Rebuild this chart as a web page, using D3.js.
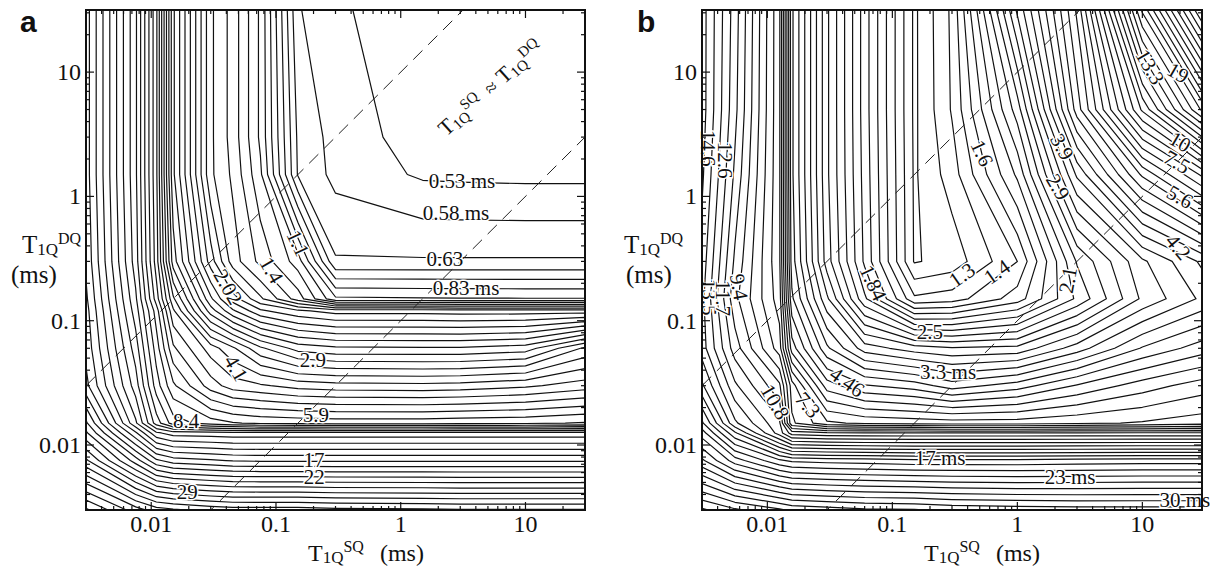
<!DOCTYPE html>
<html><head><meta charset="utf-8">
<script src="https://cdn.jsdelivr.net/npm/d3@7"></script>
<style>
body{margin:0;background:#fff;}
svg{display:block;}
text{font-family:"Liberation Serif","Times New Roman",serif;fill:#111;}
</style></head>
<body>
<svg id="chart" width="1210" height="576"></svg>
<script>
// ================= DATA =================
const xDomain = [0.003, 30];
const yDomain = [0.003, 31.6];
const tickValues = [0.01, 0.1, 1, 10];
const tickLabels = ["0.01", "0.1", "1", "10"];
const diagonalRatios = [10, 0.1];   // T1Q^DQ = 10·T1Q^SQ and T1Q^DQ = 0.1·T1Q^SQ

// ---- panel a : grid of T (ms) on log-spaced nodes ----
const aXNodes = [0.003, 0.0075, 0.011, 0.015, 0.03, 0.045, 0.075, 0.15, 0.3, 1.5, 3, 10, 30];
const aYNodes = [0.003, 0.0075, 0.0125, 0.015, 0.03, 0.06, 0.12, 0.15, 0.3, 1.5, 3, 31.6];
const aGrid = [
  [60.10, 47.27, 43.25, 42.11, 40.28, 39.57, 39.57, 39.57, 38.87, 38.53, 38.19, 38.19, 38.19],
  [35.25, 23.21, 18.92, 17.77, 17.23, 16.90, 16.78, 16.78, 16.78, 16.78, 16.78, 16.78, 16.78],
  [27.00, 15.83, 12.13, 11.40, 11.29, 11.19, 11.19, 11.19, 11.19, 11.19, 11.19, 11.19, 11.19],
  [24.70, 13.25, 9.538, 7.984, 7.305, 7.049, 6.863, 6.803, 6.743, 6.743, 6.803, 6.863, 7.049],
  [19.08, 11.40, 7.984, 6.507, 5.118, 4.683, 4.539, 4.322, 4.246, 4.209, 4.246, 4.400, 4.683],
  [18.09, 10.43, 7.305, 5.447, 4.284, 3.817, 3.195, 2.771, 2.674, 2.662, 2.662, 2.747, 3.492],
  [17.62, 9.538, 6.683, 4.559, 2.747, 2.238, 1.874, 1.714, 1.625, 1.625, 1.611, 1.611, 1.611],
  [17.31, 9.287, 6.114, 4.171, 2.447, 1.924, 1.568, 1.234, 0.9199, 0.9118, 0.9102, 0.9085, 0.9085],
  [16.70, 8.726, 5.594, 3.281, 1.924, 1.474, 1.256, 1.033, 0.6389, 0.6389, 0.6389, 0.6389, 0.6389],
  [16.26, 8.497, 5.447, 2.923, 1.568, 1.385, 1.099, 0.6276, 0.5640, 0.5230, 0.5207, 0.5184, 0.5184],
  [16.26, 8.497, 5.447, 2.923, 1.568, 1.360, 1.061, 0.6220, 0.5590, 0.5069, 0.5025, 0.5025, 0.5025],
  [16.26, 8.497, 5.447, 2.923, 1.568, 1.360, 1.061, 0.5845, 0.5347, 0.5115, 0.5025, 0.4936, 0.4892]
];
const aLevels = [0.53, 0.5793, 0.6332, 0.6921, 0.7564, 0.8268, 0.9037, 0.9877, 1.0796, 1.18,
  1.2897, 1.4096, 1.5407, 1.684, 1.8406, 2.0118, 2.1989, 2.4034, 2.627, 2.8713,
  3.1383, 3.4302, 3.7492, 4.0978, 4.4789, 4.8955, 5.3508, 5.8484, 6.3923, 6.9868,
  7.6366, 8.3468, 9.123, 9.9714, 10.899, 11.912, 13.02, 14.231, 15.555, 17.001,
  18.582, 20.31, 22.199, 24.264, 26.52, 28.987, 31.682, 34.629, 37.849, 41.369,
  45.217, 49.422, 54.018, 59.042];
// [text, T1Q^SQ, T1Q^DQ, rotation]
const aLabels = [
  ["0.53 ms", 3.10, 1.33, 0], ["0.58 ms", 2.77, 0.735, 0], ["0.63", 2.26, 0.314, 0],
  ["0.83 ms", 3.34, 0.183, 0], ["1.1", 0.150, 0.42, 65], ["1.4", 0.092, 0.255, 60],
  ["2.02", 0.0412, 0.187, 60], ["2.9", 0.198, 0.0483, 0], ["4.1", 0.0478, 0.0416, 60],
  ["5.9", 0.209, 0.0174, 0], ["8.4", 0.019, 0.0156, 0], ["17", 0.202, 0.00757, 0],
  ["22", 0.203, 0.00553, 0], ["29", 0.0194, 0.00419, 0]
];

// ---- panel b ----
const bXNodes = [0.003, 0.0055, 0.0125, 0.0157, 0.03, 0.06, 0.15, 0.3, 1, 3, 10, 30];
const bYNodes = [0.003, 0.0075, 0.0125, 0.015, 0.03, 0.06, 0.15, 0.3, 1.5, 5, 31.6];
const bGrid = [
  [42.55, 39.50, 36.67, 35.59, 34.81, 34.04, 33.79, 33.04, 32.55, 32.31, 32.31, 32.31],
  [27.23, 22.27, 18.77, 18.22, 17.95, 17.82, 17.55, 17.55, 17.55, 17.69, 17.82, 17.82],
  [22.27, 16.17, 11.40, 9.826, 9.609, 9.538, 9.538, 9.538, 9.538, 9.538, 9.538, 9.538],
  [20.22, 13.94, 11.15, 7.687, 6.624, 6.430, 6.335, 6.288, 6.288, 6.430, 6.575, 6.774],
  [16.17, 12.01, 9.609, 7.297, 5.030, 4.533, 4.335, 4.024, 4.335, 4.883, 5.419, 5.837],
  [14.25, 10.58, 7.860, 5.419, 3.935, 3.219, 2.988, 2.900, 2.944, 3.468, 4.208, 4.669],
  [14.04, 9.681, 7.297, 4.566, 3.148, 2.170, 1.496, 1.530, 1.775, 2.338, 3.148, 3.653],
  [14.36, 10.05, 7.136, 4.335, 2.774, 1.955, 1.261, 1.308, 1.5876, 2.499, 3.292, 3.935],
  [15.02, 10.82, 7.136, 4.239, 2.713, 1.927, 1.256, 1.420, 2.014, 3.653, 5.708, 7.687],
  [15.35, 11.23, 7.136, 4.239, 2.713, 1.912, 1.251, 1.485, 2.390, 5.030, 9.609, 16.17],
  [15.35, 11.40, 7.136, 4.239, 2.713, 1.912, 1.251, 1.496, 3.148, 5.708, 16.17, 34.04]
];
const bLevels = [1.27, 1.3681, 1.4738, 1.5876, 1.7103, 1.8424, 1.9846, 2.138, 2.3031, 2.4809,
  2.6725, 2.8789, 3.1013, 3.3409, 3.5989, 3.8769, 4.1763, 4.4989, 4.8464, 5.2207,
  5.6239, 6.0583, 6.5262, 7.0303, 7.5733, 8.1582, 8.7883, 9.4671, 10.198, 10.986,
  11.834, 12.748, 13.733, 14.794, 15.936, 17.167, 18.493, 19.922, 21.46, 23.118,
  24.904, 26.827, 28.899, 31.131, 33.535, 36.125, 38.915, 41.92];
const bLabels = [
  ["14.6", 0.00335, 2.45, 90], ["12.6", 0.00458, 1.96, 90], ["13.5", 0.00341, 0.155, 90],
  ["11.7", 0.00442, 0.152, 90], ["9.4", 0.00593, 0.187, 80], ["10.8", 0.0115, 0.0222, 60],
  ["7.3", 0.0211, 0.021, 50], ["4.46", 0.0434, 0.0321, 35], ["1.84", 0.070, 0.201, 65],
  ["1.6", 0.521, 2.23, 65], ["1.3", 0.361, 0.233, -35], ["1.4", 0.687, 0.247, -35],
  ["2.1", 2.54, 0.212, -80], ["3.9", 2.28, 2.50, 60], ["2.9", 2.11, 1.19, 60],
  ["13.3", 11.5, 11.0, 60], ["19", 19.3, 9.84, 30], ["10", 20.0, 2.74, 30],
  ["7.5", 18.9, 1.89, 30], ["5.6", 20.0, 0.99, 30], ["4.2", 19.3, 0.392, 50],
  ["2.5", 0.20, 0.081, 0], ["3.3 ms", 0.279, 0.0387, 0], ["17 ms", 0.241, 0.00786, 0],
  ["23 ms", 2.64, 0.00553, 0], ["30 ms", 21.9, 0.00361, 0]
];

// ================= DRAWING =================
const svg = d3.select("#chart");
const plotTop = 10, plotBottom = 510;

function axisTitle(g, xPos, yPos, size, sub, sup, trailing, dxTrail) {
  const t = g.append("text").attr("x", xPos).attr("y", yPos).attr("font-size", size);
  t.append("tspan").text("T");
  t.append("tspan").attr("font-size", 17).attr("dy", 2).text(sub);
  t.append("tspan").attr("font-size", 16).attr("dy", -11).text(sup);
  if (trailing) t.append("tspan").attr("font-size", size).attr("dy", 9).attr("dx", dxTrail).text(trailing);
  return t;
}

function drawPanel(p) {
  const g = svg.append("g");
  const x = d3.scaleLog().domain(xDomain).range([p.left, p.right]);
  const y = d3.scaleLog().domain(yDomain).range([plotBottom, plotTop]);
  const clipId = "clip-" + p.id;
  svg.append("clipPath").attr("id", clipId).append("rect")
    .attr("x", p.left).attr("y", plotTop).attr("width", p.right - p.left).attr("height", plotBottom - plotTop);

  // contours
  const nx = p.xNodes.length, ny = p.yNodes.length;
  const values = [].concat(...p.grid).map(Math.log);
  const contours = d3.contours().size([nx, ny]).thresholds(p.levels.map(Math.log))(values);
  const ix = d3.scaleLinear().domain(d3.range(nx)).range(p.xNodes.map(v => x(v))).clamp(true);
  const iy = d3.scaleLinear().domain(d3.range(ny)).range(p.yNodes.map(v => y(v))).clamp(true);
  const line = d3.line().x(d => ix(d[0] - 0.5)).y(d => iy(d[1] - 0.5));
  const cg = g.append("g").attr("clip-path", `url(#${clipId})`);
  contours.forEach(c => {
    const dstr = c.coordinates.map(poly => poly.map(ring => line(ring) + "Z").join("")).join("");
    cg.append("path").attr("d", dstr).attr("fill", "none")
      .attr("stroke", "#111").attr("stroke-width", 1.2).attr("stroke-linejoin", "round");
  });

  // dashed diagonals
  const dl = d3.line().x(d => x(d[0])).y(d => y(d[1]));
  diagonalRatios.forEach(r => {
    cg.append("path").attr("d", dl([[xDomain[0], r * xDomain[0]], [xDomain[1], r * xDomain[1]]]))
      .attr("fill", "none").attr("stroke", "#222").attr("stroke-width", 1)
      .attr("stroke-dasharray", "13,8");
  });

  // contour labels
  p.labels.forEach(d => {
    g.append("text")
      .attr("transform", `translate(${x(d[1])},${y(d[2])}) rotate(${d[3]})`)
      .attr("text-anchor", "middle").attr("dominant-baseline", "central")
      .attr("font-size", 21)
      .attr("stroke", "#fff").attr("stroke-width", 3).attr("paint-order", "stroke")
      .text(d[0]);
  });

  // ticks (inside, all four sides)
  const isMajor = v => tickValues.some(m => Math.abs(m - v) / m < 1e-6);
  x.ticks().forEach(v => {
    const len = isMajor(v) ? 8 : 4;
    g.append("line").attr("x1", x(v)).attr("x2", x(v)).attr("y1", plotBottom).attr("y2", plotBottom - len).attr("stroke", "#111").attr("stroke-width", 1.2);
    g.append("line").attr("x1", x(v)).attr("x2", x(v)).attr("y1", plotTop).attr("y2", plotTop + len).attr("stroke", "#111").attr("stroke-width", 1.2);
  });
  y.ticks().forEach(v => {
    const len = isMajor(v) ? 8 : 4;
    g.append("line").attr("y1", y(v)).attr("y2", y(v)).attr("x1", p.left).attr("x2", p.left + len).attr("stroke", "#111").attr("stroke-width", 1.2);
    g.append("line").attr("y1", y(v)).attr("y2", y(v)).attr("x1", p.right).attr("x2", p.right - len).attr("stroke", "#111").attr("stroke-width", 1.2);
  });
  tickValues.forEach((v, i) => {
    g.append("text").attr("x", x(v)).attr("y", plotBottom + 22).attr("text-anchor", "middle")
      .attr("font-size", 24).text(tickLabels[i]);
    g.append("text").attr("x", p.left - 5).attr("y", y(v)).attr("dy", "0.33em").attr("text-anchor", "end")
      .attr("font-size", 24).text(tickLabels[i]);
  });

  // frame
  g.append("rect").attr("x", p.left).attr("y", plotTop).attr("width", p.right - p.left)
    .attr("height", plotBottom - plotTop).attr("fill", "none").attr("stroke", "#111").attr("stroke-width", 2);

  // axis titles
  axisTitle(g, p.left + 222, 561, 24, "1Q", "SQ", "(ms)", 16);
  axisTitle(g, p.yTitleX, 253, 25, "1Q", "DQ", null, 0);
  g.append("text").attr("x", p.msX).attr("y", 283).attr("font-size", 25).text("(ms)");

  // panel letter
  g.append("text").attr("x", p.letterX).attr("y", 32).attr("font-size", 30)
    .attr("font-weight", "bold").style("font-family", "'Liberation Sans', Arial, sans-serif").text(p.id);

  return {g, x, y};
}

const pa = drawPanel({id: "a", left: 86, right: 585, xNodes: aXNodes, yNodes: aYNodes, grid: aGrid,
  levels: aLevels, labels: aLabels, yTitleX: 22, msX: 11, letterX: 20});
const pb = drawPanel({id: "b", left: 702, right: 1202, xNodes: bXNodes, yNodes: bYNodes, grid: bGrid,
  levels: bLevels, labels: bLabels, yTitleX: 624, msX: 626, letterX: 637});

// annotation in panel a
const ann = pa.g.append("text").attr("transform", "translate(495,93) rotate(-42)")
  .attr("text-anchor", "middle").attr("font-size", 22);
ann.append("tspan").text("T");
ann.append("tspan").attr("font-size", 15).attr("dy", 3).text("1Q");
ann.append("tspan").attr("font-size", 15).attr("dy", -10).text("SQ");
ann.append("tspan").attr("font-size", 20).attr("dy", 7).attr("dx", 10).text("≈");
ann.append("tspan").attr("font-size", 22).attr("dx", 6).text("T");
ann.append("tspan").attr("font-size", 15).attr("dy", 3).text("1Q");
ann.append("tspan").attr("font-size", 15).attr("dy", -10).text("DQ");
</script>
</body></html>
